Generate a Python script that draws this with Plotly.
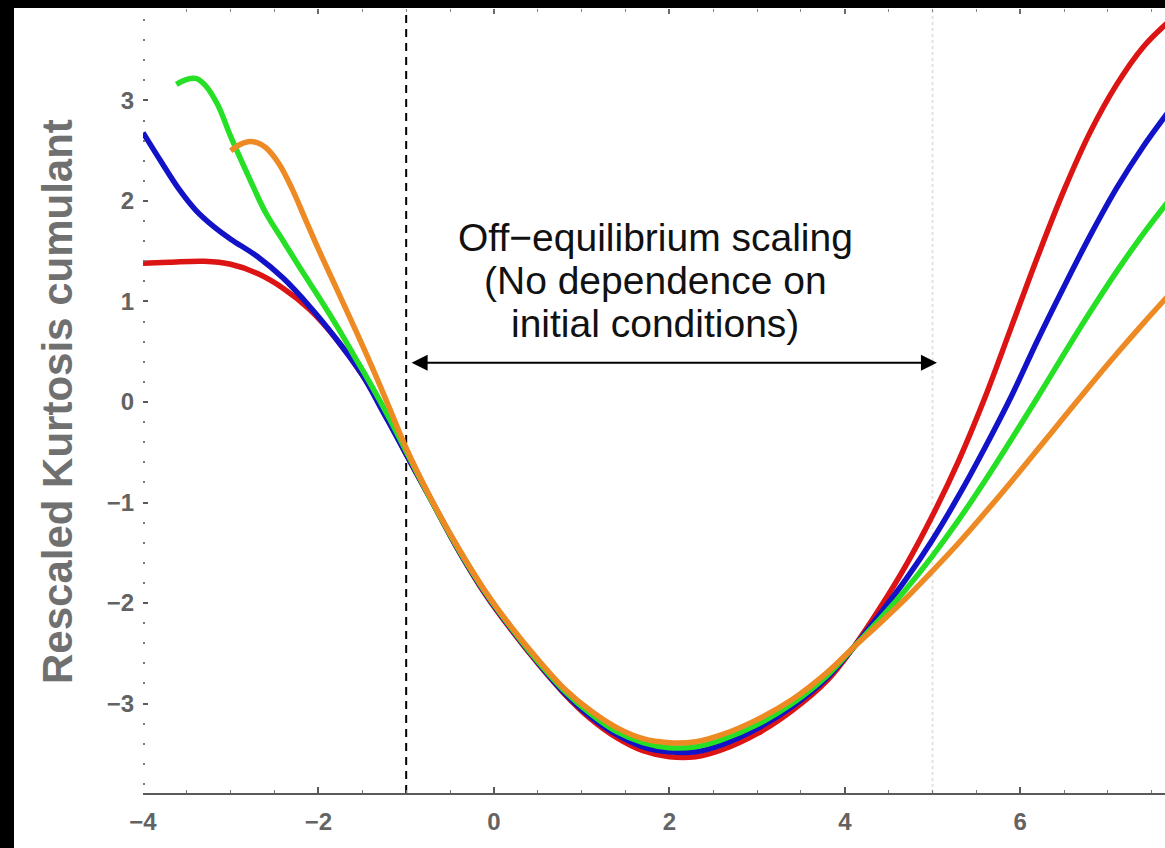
import plotly.graph_objects as go

# ---- data -------------------------------------------------------------
mid_x = [-0.7, -0.4, -0.1, 0.2, 0.5, 0.8, 1.1, 1.4, 1.7, 2.0, 2.3, 2.6, 3.0, 3.4, 3.8, 4.1]
right_x = [4.4, 4.7, 5.0, 5.3, 5.6, 5.9, 6.2, 6.5, 6.8, 7.1, 7.4, 7.7]

red_x = [-4.0, -3.7, -3.3, -3.0, -2.7, -2.4, -2.1, -1.8, -1.5, -1.25, -1.0] + mid_x + right_x
red_y = [1.38, 1.39, 1.40, 1.37, 1.28, 1.13, 0.92, 0.63, 0.27, -0.10, -0.52,
         -1.00, -1.48, -1.91, -2.27, -2.60, -2.90, -3.15, -3.34, -3.47, -3.53, -3.53, -3.46, -3.30, -3.07, -2.77, -2.44,
         -2.05, -1.62, -1.13, -0.58, 0.05, 0.75, 1.45, 2.11, 2.69, 3.16, 3.53, 3.79]

blue_x = [-4.0, -3.8, -3.6, -3.4, -3.2, -3.0, -2.7, -2.4, -2.1, -1.8, -1.5, -1.25, -1.0] + mid_x + right_x
blue_y = [2.68, 2.40, 2.13, 1.91, 1.75, 1.62, 1.45, 1.23, 0.95, 0.63, 0.27, -0.12, -0.52,
          -1.00, -1.48, -1.90, -2.26, -2.59, -2.89, -3.13, -3.31, -3.43, -3.48, -3.48, -3.41, -3.25, -3.03, -2.74, -2.44,
          -2.11, -1.76, -1.37, -0.93, -0.45, 0.06, 0.62, 1.15, 1.66, 2.13, 2.54, 2.90]

green_x = [-3.62, -3.5, -3.4, -3.3, -3.15, -3.0, -2.8, -2.6, -2.4, -2.2, -2.0, -1.8, -1.6, -1.4, -1.2, -1.0] + mid_x + right_x
green_y = [3.16, 3.21, 3.22, 3.16, 2.96, 2.64, 2.25, 1.88, 1.60, 1.32, 1.05, 0.77, 0.47, 0.17, -0.15, -0.49,
           -1.00, -1.47, -1.89, -2.25, -2.58, -2.87, -3.10, -3.28, -3.39, -3.44, -3.43, -3.36, -3.21, -3.00, -2.72, -2.44,
           -2.16, -1.86, -1.53, -1.17, -0.78, -0.37, 0.05, 0.48, 0.90, 1.30, 1.67, 2.01]

orange_x = [-3.0, -2.9, -2.8, -2.7, -2.6, -2.45, -2.3, -2.15, -2.0, -1.8, -1.6, -1.4, -1.2, -1.0] + mid_x + right_x
orange_y = [2.50, 2.56, 2.59, 2.58, 2.53, 2.37, 2.12, 1.82, 1.52, 1.14, 0.76, 0.37, -0.04, -0.46,
            -0.99, -1.46, -1.88, -2.24, -2.56, -2.85, -3.07, -3.24, -3.35, -3.39, -3.38, -3.31, -3.16, -2.96, -2.69, -2.44,
            -2.20, -1.95, -1.68, -1.40, -1.10, -0.79, -0.47, -0.15, 0.17, 0.48, 0.78, 1.07]

note_lines = ["Off\u2212equilibrium scaling", "(No dependence on", "initial conditions)"]
note_y = [1.64, 1.21, 0.78]
y_title = "Rescaled Kurtosis cumulant"

# ---- figure geometry ----------------------------------------------------
W, H = 1165, 848
ML, MR, MT, MB = 143, 0, 9, 55
PW, PH = W - ML - MR, H - MT - MB
X_RANGE = [-4.0, 7.65]
Y_RANGE = [-3.89, 3.91]

series = [
    (red_x, red_y, "#dc1414"),
    (blue_x, blue_y, "#1212c8"),
    (green_x, green_y, "#26e026"),
    (orange_x, orange_y, "#ee8a24"),
]

fig = go.Figure()
for xs, ys, col in series:
    fig.add_trace(go.Scatter(
        x=xs, y=ys, mode="lines",
        line=dict(color=col, width=5.5, shape="spline", smoothing=1.0),
        showlegend=False, hoverinfo="skip",
    ))

# carrier for the mirrored top tick row
fig.add_trace(go.Scatter(x=[], y=[], xaxis="x2", showlegend=False, hoverinfo="skip"))

tick_font = dict(family="Liberation Sans, Arial, sans-serif", size=24, color="#636363", weight="bold")

fig.update_layout(
    width=W, height=H,
    margin=dict(l=ML, r=MR, t=MT, b=MB, pad=0),
    paper_bgcolor="white", plot_bgcolor="white",
    xaxis=dict(
        range=X_RANGE, showgrid=False, zeroline=False,
        showline=True, linecolor="#5a5a5a", linewidth=2,
        ticks="inside", ticklen=6, tickwidth=1.5, tickcolor="#5a5a5a",
        tick0=0, dtick=2, tickfont=tick_font, ticklabelstandoff=6,
        minor=dict(dtick=0.5, ticks="inside", ticklen=3, tickwidth=1.2, tickcolor="#777777"),
    ),
    xaxis2=dict(
        range=X_RANGE, overlaying="x", side="top", showgrid=False, zeroline=False,
        showline=False, showticklabels=False,
        ticks="inside", ticklen=5, tickwidth=1.5, tickcolor="#6a6a6a", tick0=0, dtick=2,
        minor=dict(dtick=0.5, ticks="inside", ticklen=3, tickwidth=1.2, tickcolor="#888888"),
    ),
    yaxis=dict(
        range=Y_RANGE, showgrid=False, zeroline=False, showline=False,
        ticks="inside", ticklen=5, tickwidth=1.5, tickcolor="#5a5a5a",
        tick0=0, dtick=1, tickfont=tick_font, ticklabelstandoff=8,
        minor=dict(dtick=0.2, ticks="inside", ticklen=2, tickwidth=1.5, tickcolor="#777777"),
    ),
)

# vertical reference lines, kept beneath the curves
fig.add_shape(type="line", xref="x", yref="paper", x0=-1, x1=-1, y0=0, y1=1, layer="below",
              line=dict(color="black", width=2, dash="8px,6px"))
fig.add_shape(type="line", xref="x", yref="paper", x0=5, x1=5, y0=0, y1=1, layer="below",
              line=dict(color="#e2e2e2", width=2, dash="dot"))

# double-headed arrow spanning the scaling window
fig.add_annotation(x=5.05, y=0.39, ax=-0.955, ay=0.39, xref="x", yref="y", axref="x", ayref="y",
                   text="", showarrow=True, arrowhead=2, startarrowhead=2, arrowside="end+start",
                   arrowsize=1.6, startarrowsize=1.6, arrowwidth=2, arrowcolor="black")

for line, yy in zip(note_lines, note_y):
    fig.add_annotation(x=1.84, y=yy, xref="x", yref="y", text=line, showarrow=False,
                       font=dict(family="Liberation Sans, Arial, sans-serif", size=39, color="#111111"))

fig.add_annotation(x=(57 - ML) / PW, y=0, xref="paper", yref="y", xanchor="center", yanchor="middle",
                   text=y_title, textangle=-90, showarrow=False,
                   font=dict(family="Liberation Sans, Arial, sans-serif", size=42, color="#707070", weight="bold"))

# dark border strips along the top and left edges of the page
fig.add_shape(type="rect", xref="paper", yref="paper", layer="above",
              x0=-ML / PW - 0.01, x1=1.01, y0=1 + (MT - 8) / PH, y1=1 + (MT + 2) / PH,
              fillcolor="black", line=dict(width=0))
fig.add_shape(type="rect", xref="paper", yref="paper", layer="above",
              x0=-ML / PW - 0.01, x1=(14 - ML) / PW, y0=-(MB + 2) / PH, y1=1 + (MT + 2) / PH,
              fillcolor="black", line=dict(width=0))

fig.write_html("out.html")
